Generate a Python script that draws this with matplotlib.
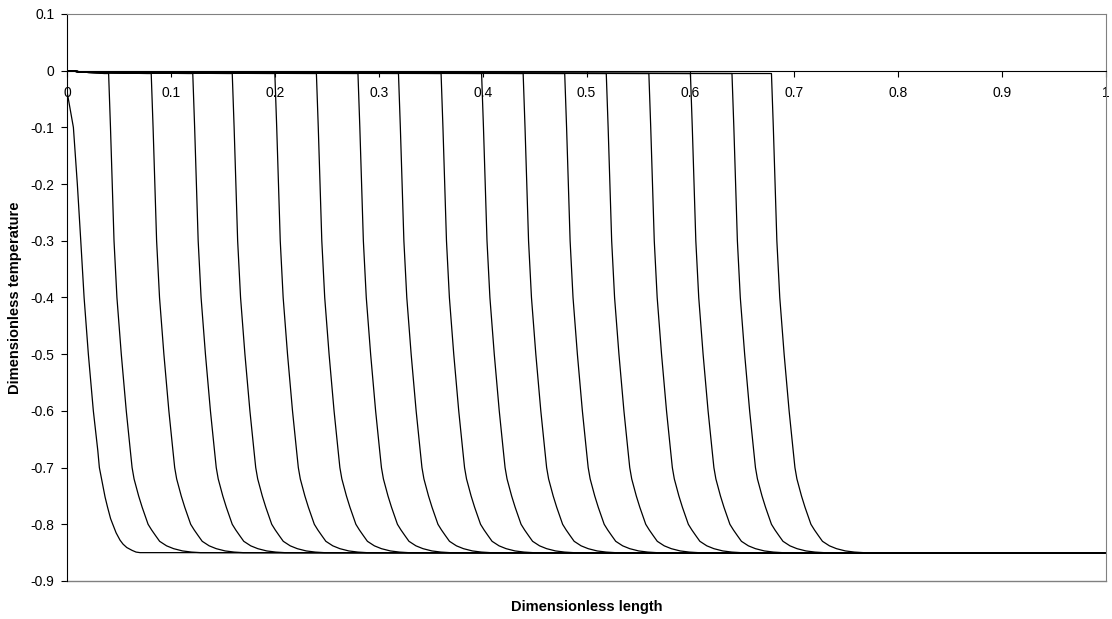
import numpy as np
import matplotlib
matplotlib.use("Agg")
import matplotlib.pyplot as plt

plt.rcParams['font.family'] = ['Liberation Sans', 'DejaVu Sans']

# Posicao da frente de cada perfil (onde a curva deixa o patamar superior)
fronts = [0.040, 0.081, 0.121, 0.159, 0.200, 0.240, 0.280, 0.319, 0.360,
          0.399, 0.439, 0.479, 0.519, 0.560, 0.600, 0.640, 0.678]

# Forma do perfil: deslocamento em x a partir da frente
profile_y = [-0.005, -0.1, -0.2, -0.3, -0.4, -0.5, -0.6, -0.67, -0.7, -0.72,
             -0.75, -0.77, -0.79, -0.8, -0.81, -0.82, -0.83, -0.838, -0.843,
             -0.847, -0.849, -0.85]
profile_dx = [0.0, 0.0018, 0.0035, 0.0052, 0.0080, 0.0122, 0.0170, 0.0209,
              0.0226, 0.0245, 0.0289, 0.0323, 0.0361, 0.0380, 0.0414, 0.0452,
              0.0491, 0.0558, 0.0626, 0.0712, 0.0799, 0.0886]

# Primeiro perfil (frente em x = 0), forma um pouco diferente
first_y = [0.0, -0.04, -0.1, -0.2, -0.3, -0.4, -0.5, -0.6, -0.67, -0.7,
           -0.752, -0.77, -0.79, -0.8, -0.815, -0.828, -0.835, -0.841,
           -0.846, -0.849, -0.85]
first_x = [0.0, 0.0003, 0.0061, 0.0099, 0.0132, 0.0164, 0.0205, 0.0253,
           0.0296, 0.0311, 0.0366, 0.0390, 0.0419, 0.0440, 0.0472, 0.0510,
           0.0539, 0.0575, 0.0626, 0.0664, 0.0703]

# Patamar superior e inferior
top_x = [0.0, 0.02]
top_y = [0.0, -0.003]
bottom_level = -0.85

x_ticks = [0, 0.1, 0.2, 0.3, 0.4, 0.5, 0.6, 0.7, 0.8, 0.9, 1]
x_labels = ["0", "0.1", "0.2", "0.3", "0.4", "0.5", "0.6", "0.7", "0.8", "0.9", "1"]
y_ticks = [0.1, 0, -0.1, -0.2, -0.3, -0.4, -0.5, -0.6, -0.7, -0.8, -0.9]
y_labels = ["0.1", "0", "-0.1", "-0.2", "-0.3", "-0.4", "-0.5", "-0.6", "-0.7", "-0.8", "-0.9"]

fig = plt.figure(figsize=(11.12, 6.19), dpi=100)
ax = fig.add_axes([0.0603, 0.0614, 0.9343, 0.916])

lw = 0.9
# primeiro perfil
ax.plot(first_x + [1.0], first_y + [bottom_level], color="black", lw=lw)
# demais perfis
for f in fronts:
    xs = top_x + [f - 0.004] + [f + d for d in profile_dx] + [1.0]
    ys = top_y + [-0.005] + profile_y + [bottom_level]
    ax.plot(xs, ys, color="black", lw=lw)

ax.set_xlim(0, 1)
ax.set_ylim(-0.9, 0.1)
ax.set_xticks(x_ticks)
ax.set_xticklabels(x_labels)
ax.set_yticks(y_ticks)
ax.set_yticklabels(y_labels)

# eixo x cruzando em y = 0, moldura cinza
ax.spines["bottom"].set_position(("data", 0))
ax.spines["bottom"].set_color("black")
ax.spines["left"].set_color("black")
ax.spines["top"].set_color("#808080")
ax.spines["right"].set_color("#808080")
ax.plot([0, 1], [0, 0], transform=ax.transAxes, color="#808080", lw=1, clip_on=False)

ax.tick_params(axis="both", direction="out", length=4, width=0.8, labelsize=10, colors="black")
ax.tick_params(axis="x", pad=7)
ax.tick_params(axis="y", pad=5)

ax.set_xlabel("Dimensionless length", fontsize=10.5, fontweight="bold")
ax.set_ylabel("Dimensionless temperature", fontsize=10.5, fontweight="bold")
ax.xaxis.set_label_coords(0.5, -0.033)
ax.yaxis.set_label_coords(-0.043, 0.5)

fig.savefig("out.png", dpi=100)
